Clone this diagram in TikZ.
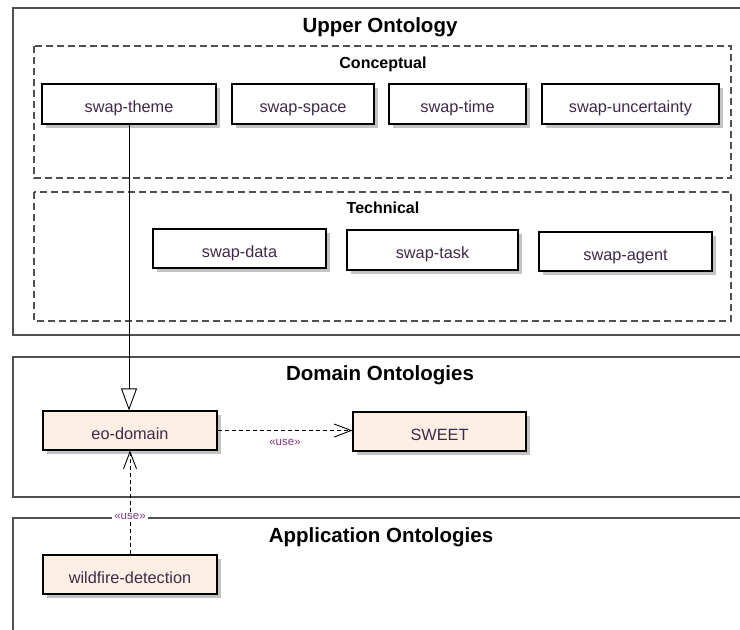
\documentclass[tikz,border=0pt]{standalone}
\usepackage{fontspec}
\setmainfont{Liberation Sans}
\usetikzlibrary{arrows.meta,shadows}
\definecolor{framegray}{RGB}{80,80,80}
\definecolor{boxtext}{RGB}{64,42,74}
\definecolor{beige}{RGB}{251,240,227}
\definecolor{usecol}{RGB}{125,55,125}
\definecolor{shadowgray}{RGB}{195,195,195}
\begin{document}
\begin{tikzpicture}[x=1pt,y=-1pt,
  frame/.style={draw=framegray, line width=1.3pt},
  dashframe/.style={draw=framegray, line width=1.2pt, dash pattern=on 7pt off 4pt},
  umlbox/.style={draw=black, line width=1.1pt, text=boxtext, fill=white,
    font=\fontsize{16.3}{18}\selectfont, inner sep=0pt, text height=17pt, text depth=0pt,
    drop shadow={shadow xshift=4pt, shadow yshift=-4pt, fill=shadowgray, opacity=1}},
  tanbox/.style={umlbox, fill=beige},
  bigtitle/.style={font=\fontsize{20.5}{24}\selectfont\bfseries, text=black,
    inner sep=0pt, text height=15pt, text depth=0pt},
  subtitle/.style={font=\fontsize{16}{19}\selectfont\bfseries, text=black,
    inner sep=0pt, text height=11.5pt, text depth=0pt},
  uselabel/.style={font=\fontsize{11.5}{13}\selectfont, text=usecol, inner sep=1pt},
  depline/.style={draw=black, line width=0.9pt, dash pattern=on 4pt off 3pt,
    -{Straight Barb[length=17pt,width=13pt,line width=0.9pt]}},
  genline/.style={draw=black, line width=0.9pt,
    -{Triangle[open,length=22pt,width=16pt,line width=0.9pt,fill=white]}}
]
\useasboundingbox (0,0) rectangle (740,630);
\clip (0,0) rectangle (740,630);
\fill[white] (0,0) rectangle (740,630);

% frames
\draw[frame] (745,8) -- (13,8) -- (13,335) -- (745,335);
\draw[frame] (745,357) -- (13,357) -- (13,497) -- (745,497);
\draw[frame] (745,518) -- (13,518) -- (13,640);
\draw[dashframe] (34,46) rectangle (731,178);
\draw[dashframe] (34,192) rectangle (731,321);

% titles
\node[bigtitle] (tupper) at (380,24.5) {Upper Ontology};
\node[subtitle] (tconc) at (383,62.5) {Conceptual};
\node[subtitle] (ttech) at (383,207.5) {Technical};
\node[bigtitle] (tdom) at (380,372.5) {Domain Ontologies};
\node[bigtitle] (tapp) at (381,535) {Application Ontologies};

% upper ontology boxes
\node[umlbox, minimum width=174pt, minimum height=40pt] (theme) at (129,104) {swap-theme};
\node[umlbox, minimum width=142pt, minimum height=40pt] (space) at (303,104) {swap-space};
\node[umlbox, minimum width=137pt, minimum height=40pt] (time) at (457.5,104) {swap-time};
\node[umlbox, minimum width=177pt, minimum height=40pt] (uncert) at (630.5,104) {swap-uncertainty};
\node[umlbox, minimum width=173pt, minimum height=39pt] (data) at (239.5,248.5) {swap-data};
\node[umlbox, minimum width=171pt, minimum height=40pt] (task) at (432.5,250) {swap-task};
\node[umlbox, minimum width=173pt, minimum height=39pt] (agent) at (625.5,251.5) {swap-agent};

% domain / application boxes
\node[tanbox, minimum width=174pt, minimum height=39pt] (eo) at (130,430.5) {eo-domain};
\node[tanbox, minimum width=173pt, minimum height=39pt] (sweet) at (439.5,431.5) {SWEET};
\node[tanbox, minimum width=174pt, minimum height=39pt] (wild) at (130,574.5) {wildfire-detection};

% connectors
\draw[genline] (theme.south) -- (theme.south |- eo.north);
\draw[depline] (eo.east) -- (eo.east -| sweet.west)
  node[uselabel, midway, yshift=-12pt] (use1) {«use»};
\draw[depline] (wild.north) -- (eo.south)
  node[uselabel, fill=white, pos=0.362, inner xsep=2pt] (use2) {«use»};
\end{tikzpicture}
\end{document}
